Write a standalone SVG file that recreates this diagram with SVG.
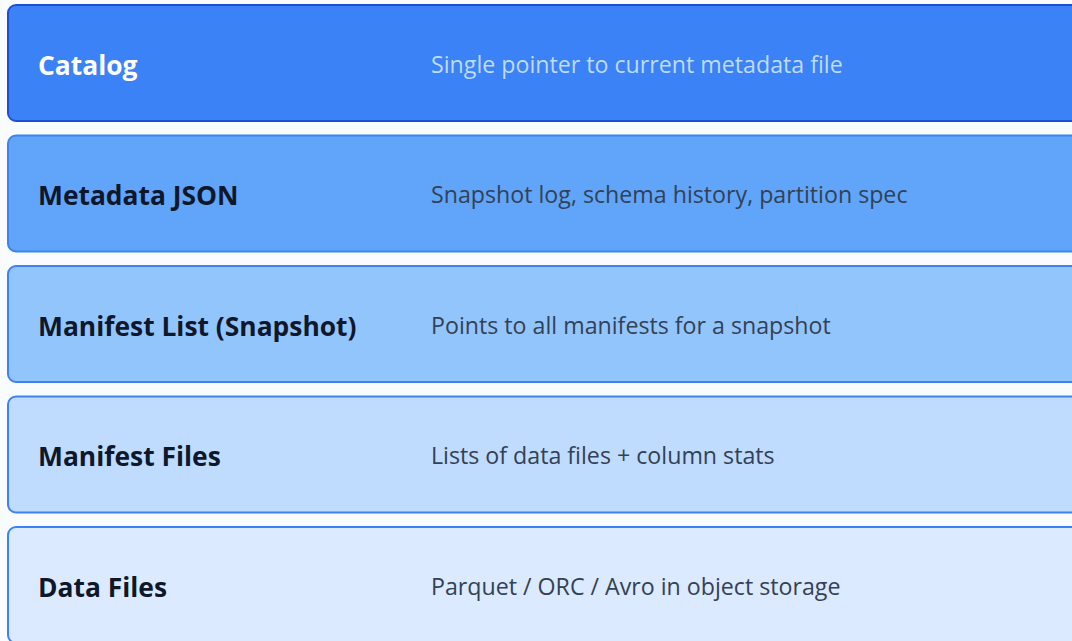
<svg xmlns="http://www.w3.org/2000/svg" width="1072" height="641" viewBox="0 0 1072 641">
  <style>
    .box { stroke-width: 2; }
    .title { font-family: "Open Sans", "Noto Sans", sans-serif; font-weight: 700; font-size: 26.4px; fill: #0f172a; }
    .desc { font-family: "Open Sans", "Noto Sans", sans-serif; font-size: 23.2px; fill: #334155; }
  </style>
  <rect x="0" y="0" width="1072" height="641" fill="#f8fcff"/>

  <g id="catalog">
    <rect class="box" x="8" y="5" width="1100" height="116" rx="8" fill="#3b82f6" stroke="#1d4ed8"/>
    <text class="title" x="38" y="75" style="fill:#ffffff">Catalog</text>
    <text class="desc" x="431" y="73" style="fill:#bfdbfe">Single pointer to current metadata file</text>
  </g>

  <g id="metadata-json">
    <rect class="box" x="8" y="135.5" width="1100" height="116" rx="8" fill="#60a5fa" stroke="#3b82f6"/>
    <text class="title" x="38" y="205">Metadata JSON</text>
    <text class="desc" x="431" y="203">Snapshot log, schema history, partition spec</text>
  </g>

  <g id="manifest-list">
    <rect class="box" x="8" y="266" width="1100" height="116" rx="8" fill="#93c5fd" stroke="#3b82f6"/>
    <text class="title" x="38" y="336">Manifest List (Snapshot)</text>
    <text class="desc" x="431" y="334">Points to all manifests for a snapshot</text>
  </g>

  <g id="manifest-files">
    <rect class="box" x="8" y="396.5" width="1100" height="116" rx="8" fill="#bfdbfe" stroke="#3b82f6"/>
    <text class="title" x="38" y="466">Manifest Files</text>
    <text class="desc" x="431" y="464">Lists of data files + column stats</text>
  </g>

  <g id="data-files">
    <rect class="box" x="8" y="527" width="1100" height="116" rx="8" fill="#dbeafe" stroke="#3b82f6"/>
    <text class="title" x="38" y="597">Data Files</text>
    <text class="desc" x="431" y="595">Parquet / ORC / Avro in object storage</text>
  </g>

  <g id="connectors"/>
</svg>
